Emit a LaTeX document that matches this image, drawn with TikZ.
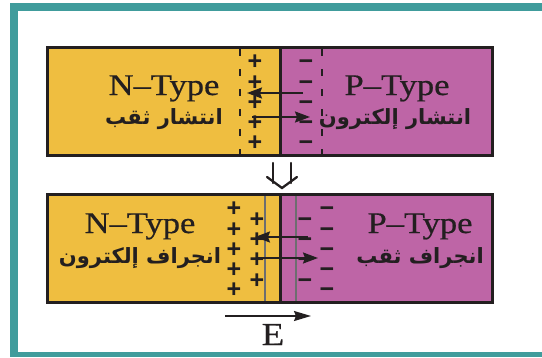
\documentclass[tikz,border=0pt]{standalone}
\usepackage{fontspec}
\setmainfont{Liberation Serif}
\newfontfamily\latinfont[FakeStretch=1.15,FakeBold=0.6]{Liberation Serif}
\newfontfamily\arabicfont[Script=Arabic]{DejaVu Sans}
\newfontfamily\chargefont{Liberation Sans}
\TeXXeTstate=1
\usetikzlibrary{arrows.meta}
\definecolor{nyellow}{HTML}{EFBE40}
\definecolor{pmag}{HTML}{BE65A6}
\definecolor{frameteal}{HTML}{409C9C}
\definecolor{inkdark}{HTML}{231F20}
\definecolor{layergray}{HTML}{6D6E70}
\tikzset{
  half/.style={draw=inkdark, line width=3pt, inner sep=0pt, minimum height=108pt},
  typelabel/.style={font=\latinfont\fontsize{30}{36}\selectfont, text=inkdark, anchor=base, inner sep=0pt},
  arlabel/.style={font=\arabicfont\bfseries\fontsize{21}{26}\selectfont, text=inkdark, anchor=base, inner sep=0pt},
  charge/.style={font=\chargefont\bfseries\fontsize{25}{30}\selectfont, text=inkdark, inner sep=0pt,
     anchor=base, text height=0.55em, text depth=0pt, yshift=-9.5pt},
  flow/.style={line width=1.8pt, draw=inkdark, -{Stealth[length=15pt,width=11pt,inset=2pt]}},
  depletion/.style={line width=1.8pt, draw=inkdark, dash pattern=on 7pt off 13pt},
  layer/.style={line width=2pt, draw=layergray},
  bigarrow/.style={line width=2.3pt, draw=inkdark, line cap=round, line join=miter}
}
\begin{document}
\begin{tikzpicture}[x=1pt,y=-1pt]
\useasboundingbox (0,0) rectangle (542,357);
% frame
\fill[frameteal] (10,3) rectangle (18,357);
\fill[frameteal] (10,3) rectangle (542,11);
\fill[frameteal] (10,352) rectangle (542,357);

% ---------- top junction ----------
\node[half, fill=nyellow, minimum width=232.5pt] (topN) at (163.75,101.5) {};
\node[half, fill=pmag, minimum width=212.5pt] (topP) at (386.25,101.5) {};
\draw[depletion] (240,49) -- (240,154);
\draw[depletion] (322,49) -- (322,154);
\foreach \y [count=\i] in {60,81,101,121,141}{
  \node[charge] (tplus\i) at (255,\y) {+};
  \node[charge] (tminus\i) at (306,\y) {−};
}
\coordinate (ta1) at (303,93);  \coordinate (ta2) at (247,93);
\coordinate (tb1) at (252,117); \coordinate (tb2) at (310,117);
\draw[flow] (ta1) -- (ta2);
\draw[flow] (tb1) -- (tb2);
\node[typelabel] (tNlab) at (164,95) {N–Type};
\node[typelabel] (tPlab) at (397,95) {P–Type};
\node[arlabel] (tNar) at (164,124) {\beginR انتشار ثقب\endR};
\node[arlabel] (tPar) at (395,124) {\beginR انتشار إلكترون\endR};

% ---------- transition arrow ----------
\coordinate (da1) at (273,163); \coordinate (da2) at (273,183);
\coordinate (db1) at (291,163); \coordinate (db2) at (291,183);
\coordinate (dv1) at (267,177); \coordinate (dv2) at (282,188); \coordinate (dv3) at (297,177);
\draw[bigarrow] (da1) -- (da2);
\draw[bigarrow] (db1) -- (db2);
\draw[bigarrow] (dv1) -- (dv2) -- (dv3);

% ---------- bottom junction ----------
\node[half, fill=nyellow, minimum width=232.5pt] (botN) at (163.75,248.5) {};
\node[half, fill=pmag, minimum width=212.5pt] (botP) at (386.25,248.5) {};
\draw[layer] (265,196) -- (265,301);
\draw[layer] (296,196) -- (296,301);
\foreach \y [count=\i] in {207,228,248,268,288}{
  \node[charge] (bplusA\i) at (234,\y) {+};
  \node[charge] (bminusB\i) at (327,\y) {−};
}
\foreach \y [count=\i] in {218,238,258,279}{
  \node[charge] (bplusB\i) at (257,\y) {+};
  \node[charge] (bminusA\i) at (305,\y) {−};
}
\coordinate (ba1) at (308,237); \coordinate (ba2) at (255,237);
\coordinate (bb1) at (257,258); \coordinate (bb2) at (318,258);
\draw[flow] (ba1) -- (ba2);
\draw[flow] (bb1) -- (bb2);
\node[typelabel] (bNlab) at (140,233) {N–Type};
\node[typelabel] (bPlab) at (420,233) {P–Type};
\node[arlabel] (bNar) at (140,263) {\beginR انجراف إلكترون\endR};
\node[arlabel] (bPar) at (420,263) {\beginR انجراف ثقب\endR};

% ---------- field ----------
\coordinate (e1) at (225,316); \coordinate (e2) at (311,316);
\draw[line width=1.8pt, draw=inkdark, -{Stealth[length=17pt,width=10pt,inset=2pt]}] (e1) -- (e2);
\node[font=\latinfont\fontsize{32}{36}\selectfont, text=inkdark, anchor=base, inner sep=0pt] (Elab) at (273,345) {E};
\end{tikzpicture}
\end{document}
